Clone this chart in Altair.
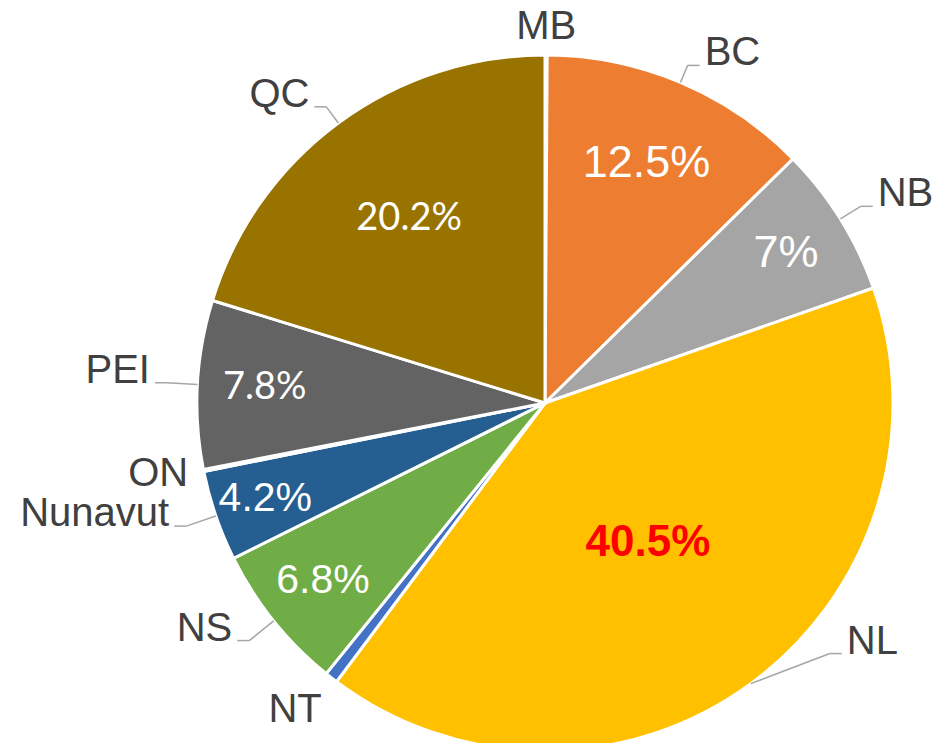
import altair as alt
import pandas as pd

# ---- data (clockwise from 12 o'clock) ----
provinces = ["MB", "BC", "NB", "NL", "NT", "NS", "Nunavut", "ON", "PEI", "QC"]
shares = [0.1, 12.5, 7.0, 40.5, 0.6, 6.8, 4.2, 0.1, 7.8, 20.2]
pct_labels = ["", "12.5%", "7%", "40.5%", "", "6.8%", "4.2%", "", "7.8%", "20.2%"]

# ---- styles ----
colors = ["#5B9BD5", "#ED7D31", "#A5A5A5", "#FFC000", "#4472C4",
          "#70AD47", "#255E91", "#9E480E", "#636363", "#997300"]
R = 348
W, H = 928, 735
CX, CY = 537, 395  # pie centre inside the plot area

df = pd.DataFrame({
    "idx": list(range(len(provinces))),
    "prov": provinces,
    "share": shares,
    "pct": pct_labels,
})

xs = alt.Scale(domain=[-CX, W - CX], nice=False, zero=False)
ys = alt.Scale(domain=[CY - H, CY], nice=False, zero=False)

base = (
    alt.Chart(df)
    .transform_window(cum="sum(share)", sort=[alt.SortField("idx")], frame=[None, 0])
    .transform_joinaggregate(total="sum(share)")
    .transform_calculate(
        mid="(datum.cum - datum.share/2) / datum.total * 2 * PI",
    )
    .transform_calculate(
        s="sin(datum.mid)",
        c="cos(datum.mid)",
    )
    .transform_calculate(
        rin=f"clamp(0.9 - 0.012*datum.share, 0.5, 0.87) * {R}",
        rb=f"(1.09 - 0.04*max(datum.c, 0)) * {R}",
        ex=f"{R}*datum.s",
        ey=f"{R}*datum.c",
        ax=f"{1.045*R}*datum.s",
        ay=f"{1.045*R}*datum.c",
    )
    .transform_calculate(
        ix="datum.rin*datum.s",
        iy="datum.rin*datum.c",
        by=f"max(datum.rb*datum.c, {-0.72*R})",
        salign="abs(datum.s) < 0.3 ? 'center' : (datum.s < 0 ? 'right' : 'left')",
        sbase="datum.c > 0.5 ? 'alphabetic' : (datum.c < -0.5 ? 'top' : 'middle')",
    )
    .transform_calculate(
        bx="(datum.s >= 0 ? 1 : -1) * sqrt(datum.rb*datum.rb - datum.by*datum.by)",
    )
    .transform_calculate(
        cx="datum.bx + (datum.s >= 0 ? 12 : -12)",
        tx="datum.bx + (datum.s >= 0 ? 17 : -17)",
    )
)

arcs = base.mark_arc(outerRadius=R, stroke="white", strokeWidth=3).encode(
    theta=alt.Theta("share:Q", stack=True),
    order=alt.Order("idx:Q", sort="ascending"),
    color=alt.Color("prov:N", scale=alt.Scale(domain=provinces, range=colors), legend=None),
    x=alt.value(CX),
    y=alt.value(CY),
)

layers = [arcs]


def inside(filter_expr, **mark_kw):
    return base.transform_filter(filter_expr).mark_text(
        baseline="middle", align="center", **mark_kw
    ).encode(
        x=alt.X("ix:Q", scale=xs, axis=None),
        y=alt.Y("iy:Q", scale=ys, axis=None),
        text="pct:N",
    )


# inside percentage labels
layers += [
    inside("datum.prov == 'BC' || datum.prov == 'NB'",
           font="Liberation Sans", fontSize=45, color="white"),
    inside("datum.prov == 'NS' || datum.prov == 'Nunavut'",
           font="Liberation Sans", fontSize=41, color="white"),
    inside("datum.prov == 'QC' || datum.prov == 'PEI'",
           font="Lato", fontSize=38, color="white"),
    inside("datum.share >= 30",
           font="Liberation Sans", fontSize=44, fontWeight="bold", color="#FF0000"),
]

# leader lines
lead_gray = "#A6A6A6"
rule1 = base.transform_filter("datum.share >= 1").mark_rule(color=lead_gray, strokeWidth=1.5).encode(
    x=alt.X("ex:Q", scale=xs, axis=None),
    y=alt.Y("ey:Q", scale=ys, axis=None),
    x2="bx:Q",
    y2="by:Q",
)
rule2 = base.transform_filter("datum.share >= 1").mark_rule(color=lead_gray, strokeWidth=1.5).encode(
    x=alt.X("bx:Q", scale=xs, axis=None),
    y=alt.Y("by:Q", scale=ys, axis=None),
    x2="cx:Q",
)
layers += [rule1, rule2]

# outside category labels with leader lines
for side in ["left", "right"]:
    cond = "datum.s >= 0" if side == "left" else "datum.s < 0"
    layers.append(
        base.transform_filter(f"datum.share >= 1 && {cond}").mark_text(
            font="Liberation Sans", fontSize=40, color="#404040",
            align=side, baseline="alphabetic"
        ).encode(
            x=alt.X("tx:Q", scale=xs, axis=None),
            y=alt.Y("by:Q", scale=ys, axis=None),
            text="prov:N",
        )
    )

# outside labels of the tiny slices (no leader)
for al in ["left", "center", "right"]:
    for bl in ["alphabetic", "middle", "top"]:
        layers.append(
            base.transform_filter(
                f"datum.share < 1 && datum.salign == '{al}' && datum.sbase == '{bl}'"
            ).mark_text(
                font="Liberation Sans", fontSize=40, color="#404040",
                align=al, baseline=bl
            ).encode(
                x=alt.X("ax:Q", scale=xs, axis=None),
                y=alt.Y("ay:Q", scale=ys, axis=None),
                text="prov:N",
            )
        )

chart = alt.layer(*layers).properties(
    width=W, height=H, padding=0,
    autosize=alt.AutoSizeParams(type="none"),
).configure_view(stroke=None)

chart.save("out.html", embed_options={"renderer": "svg", "actions": False})
